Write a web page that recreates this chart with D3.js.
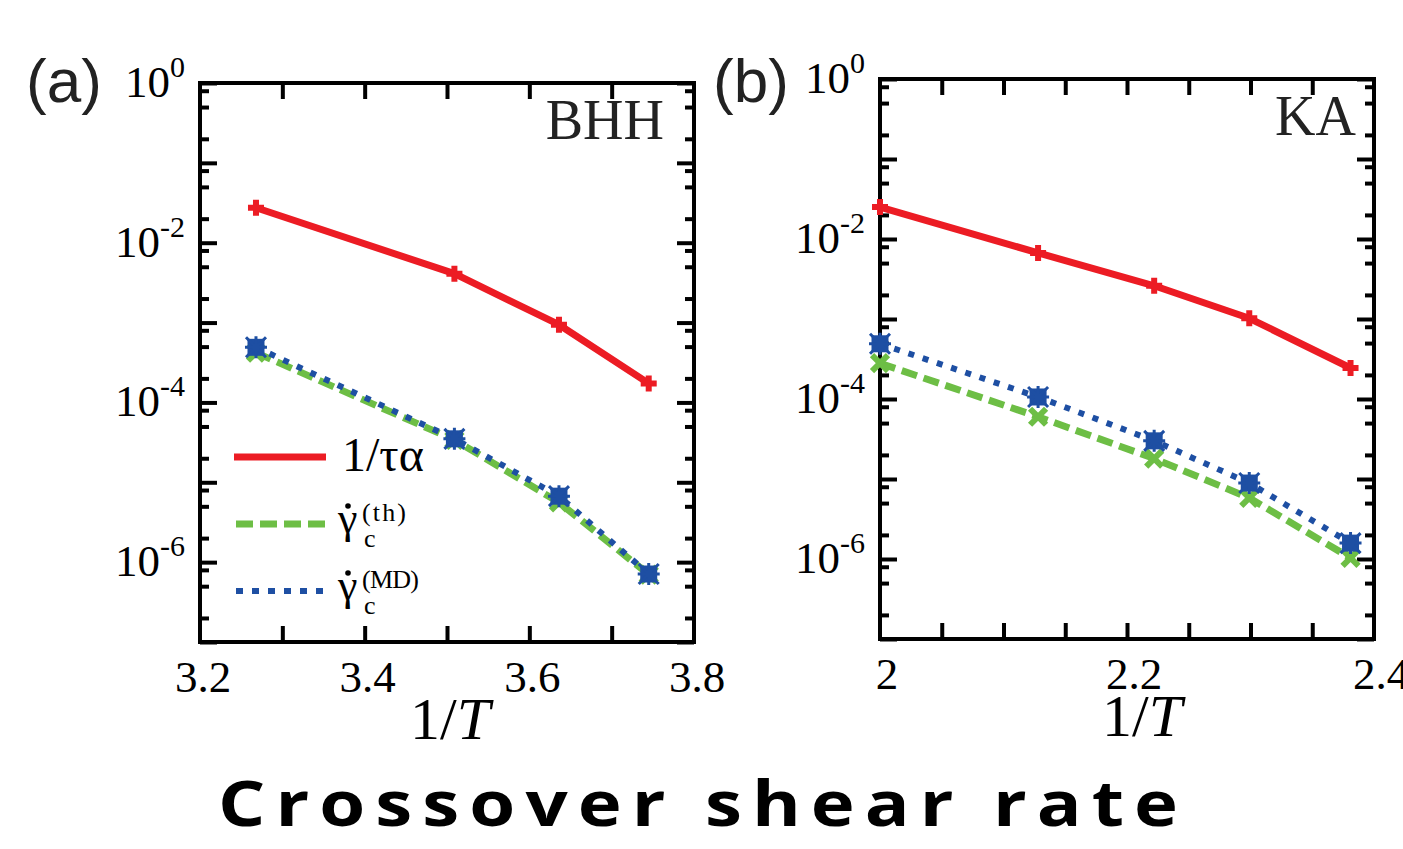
<!DOCTYPE html>
<html>
<head>
<meta charset="utf-8">
<script src="https://cdn.jsdelivr.net/npm/d3@7"></script>
<style>
  body { margin: 0; background: #fff; }
  svg { display: block; }
  .tick line { stroke: #000; stroke-width: 4; }
</style>
</head>
<body>
<div id="chart"></div>
<script>
// values
var bhhInvT   = [3.268, 3.509, 3.636, 3.745];
var bhhTau    = [0.0274, 4.1e-3, 9.4e-4, 1.73e-4];
var bhhGamTh  = [4.2e-4, 3.4e-5, 5.6e-6, 7.0e-7];
var bhhGamMD  = [4.9e-4, 3.5e-5, 6.7e-6, 7.1e-7];

var kaInvT    = [2.0, 2.128, 2.222, 2.299, 2.381];
var kaTau     = [0.0251, 6.7e-3, 2.6e-3, 1.02e-3, 2.44e-4];
var kaGamTh   = [2.8e-4, 6.0e-5, 1.8e-5, 5.8e-6, 1.03e-6];
var kaGamMD   = [4.9e-4, 1.06e-4, 3.0e-5, 8.9e-6, 1.58e-6];

var yLabelExps = [0, -2, -4, -6];
var bhhXLabels = [3.2, 3.4, 3.6, 3.8];
var bhhXTicks  = [3.3, 3.4, 3.5, 3.6, 3.7];
var kaXLabels  = [2, 2.2, 2.4];
var kaXTicks   = [2.05, 2.1, 2.15, 2.2, 2.25, 2.3, 2.35];

var RED = "#ec1c24", GREEN = "#6dbe45", BLUE = "#1e4fa3";
var SERIF = "'Liberation Serif', 'Times New Roman', serif";

var svg = d3.select("#chart").append("svg")
  .attr("width", 1403).attr("height", 849);

function zip(xs, ys) { return xs.map(function(d, i) { return [d, ys[i]]; }); }

function drawPanel(p) {
  var x = d3.scaleLinear().domain(p.xDomain).range([p.left, p.right]);
  var y = d3.scaleLog().domain([1e-7, 1]).range([p.bottom, p.top]);
  var g = svg.append("g");

  var majors = d3.range(-7, 1).map(function(e) { return Math.pow(10, e); });
  var minors = [];
  d3.range(-7, 0).forEach(function(e) {
    [2, 5, 8].forEach(function(m) { minors.push(m * Math.pow(10, e)); });
  });

  // ticks, all pointing inward
  function axis(gen, tx, ty, vals, size) {
    var a = g.append("g").attr("transform", "translate(" + tx + "," + ty + ")")
      .call(gen.tickValues(vals).tickSize(-size).tickFormat(""));
    a.select(".domain").remove();
  }
  axis(d3.axisLeft(y), p.left, 0, majors, 17);
  axis(d3.axisLeft(y), p.left, 0, minors, 9);
  axis(d3.axisRight(y), p.right, 0, majors, 17);
  axis(d3.axisRight(y), p.right, 0, minors, 9);
  axis(d3.axisBottom(x), 0, p.bottom, p.xTicks, 16);
  axis(d3.axisTop(x), 0, p.top, p.xTicks, 16);

  g.append("rect")
    .attr("x", p.left).attr("y", p.top)
    .attr("width", p.right - p.left).attr("height", p.bottom - p.top)
    .attr("fill", "none").attr("stroke", "#000").attr("stroke-width", 4);

  // y labels 10^n
  yLabelExps.forEach(function(e) {
    var t = g.append("text")
      .attr("x", p.left - 15).attr("y", y(Math.pow(10, e)) + 14)
      .attr("text-anchor", "end")
      .style("font-family", SERIF).style("font-size", "45px");
    t.append("tspan").text("10");
    t.append("tspan").attr("dy", -20).style("font-size", "30px").text(e === 0 ? "0" : "-" + (-e));
  });

  // x labels
  g.selectAll(".xl").data(p.xLabels).enter().append("text")
    .attr("x", function(d) { return x(d) + p.labelShift; })
    .attr("y", p.bottom + 50)
    .attr("text-anchor", "middle")
    .style("font-family", SERIF).style("font-size", "45px")
    .text(function(d) { return d; });

  var xt = g.append("text")
    .attr("x", (p.left + p.right) / 2 + p.titleShift).attr("y", p.bottom + 97)
    .attr("text-anchor", "middle")
    .style("font-family", SERIF).style("font-size", "60px");
  xt.append("tspan").text("1/");
  xt.append("tspan").style("font-style", "italic").text("T");

  // panel tag and system name
  g.append("text").attr("x", p.tagX).attr("y", 102)
    .style("font-family", "'Liberation Sans', Arial, sans-serif").style("font-size", "62px")
    .attr("fill", "#222").text(p.tag);
  g.append("text").attr("x", p.nameX).attr("y", p.top + 56)
    .attr("text-anchor", "end")
    .style("font-family", SERIF).style("font-size", "56px")
    .attr("fill", "#222").text(p.name);

  var line = d3.line().x(function(d) { return x(d[0]); }).y(function(d) { return y(d[1]); });

  // green dashed
  var th = zip(p.xs, p.th);
  g.append("path").datum(th).attr("d", line)
    .attr("fill", "none").attr("stroke", GREEN).attr("stroke-width", 7)
    .attr("stroke-dasharray", "16,7");
  g.selectAll(".gx").data(th).enter().append("path")
    .attr("transform", function(d) { return "translate(" + x(d[0]) + "," + y(d[1]) + ")"; })
    .attr("d", "M-8,-8L8,8M-8,8L8,-8")
    .attr("stroke", GREEN).attr("stroke-width", 6).attr("fill", "none");

  // blue dotted
  var md = zip(p.xs, p.md);
  g.append("path").datum(md).attr("d", line)
    .attr("fill", "none").attr("stroke", BLUE).attr("stroke-width", 6)
    .attr("stroke-dasharray", "6,9");
  var bm = g.selectAll(".bm").data(md).enter().append("g")
    .attr("transform", function(d) { return "translate(" + x(d[0]) + "," + y(d[1]) + ")"; });
  bm.append("rect").attr("x", -8.5).attr("y", -8.5).attr("width", 17).attr("height", 17).attr("fill", BLUE);
  bm.append("path").attr("d", "M-10,-10L10,10M-10,10L10,-10M-11,0L11,0M0,-11L0,11")
    .attr("stroke", BLUE).attr("stroke-width", 3);

  // red solid
  var tau = zip(p.xs, p.tau);
  g.append("path").datum(tau).attr("d", line)
    .attr("fill", "none").attr("stroke", RED).attr("stroke-width", 7)
    .attr("stroke-linejoin", "round");
  g.selectAll(".rp").data(tau).enter().append("path")
    .attr("transform", function(d) { return "translate(" + x(d[0]) + "," + y(d[1]) + ")"; })
    .attr("d", "M-8,0L8,0M0,-8L0,8")
    .attr("stroke", RED).attr("stroke-width", 6).attr("fill", "none");

  return g;
}

var ga = drawPanel({
  left: 200, right: 694, top: 83, bottom: 642,
  xDomain: [3.2, 3.8], xTicks: bhhXTicks, xLabels: bhhXLabels,
  labelShift: 3, titleShift: 3,
  xs: bhhInvT, tau: bhhTau, th: bhhGamTh, md: bhhGamMD,
  tag: "(a)", tagX: 26, name: "BHH", nameX: 664
});

drawPanel({
  left: 880, right: 1374, top: 79, bottom: 639,
  xDomain: [2.0, 2.4], xTicks: kaXTicks, xLabels: kaXLabels,
  labelShift: 7, titleShift: 15,
  xs: kaInvT, tau: kaTau, th: kaGamTh, md: kaGamMD,
  tag: "(b)", tagX: 713, name: "KA", nameX: 1356
});

// legend in panel (a)
var leg = ga.append("g");
leg.append("line").attr("x1", 234).attr("x2", 326).attr("y1", 457).attr("y2", 457)
  .attr("stroke", RED).attr("stroke-width", 7);
leg.append("text").attr("x", 342).attr("y", 471)
  .style("font-family", SERIF).style("font-size", "48px").text("1/τα");

leg.append("line").attr("x1", 236).attr("x2", 326).attr("y1", 524).attr("y2", 524)
  .attr("stroke", GREEN).attr("stroke-width", 7).attr("stroke-dasharray", "17,7");
leg.append("line").attr("x1", 236).attr("x2", 326).attr("y1", 591).attr("y2", 591)
  .attr("stroke", BLUE).attr("stroke-width", 6).attr("stroke-dasharray", "7,9");

[["(th)", 533, 44], ["(MD)", 600, 57]].forEach(function(r) {
  var base = r[1];
  leg.append("text").attr("x", 338).attr("y", base)
    .style("font-family", SERIF).style("font-size", "44px").text("γ");
  leg.append("circle").attr("cx", 348).attr("cy", base - 27).attr("r", 2.8).attr("fill", "#000");
  leg.append("text").attr("x", 362).attr("y", base - 12)
    .attr("textLength", r[2]).attr("lengthAdjust", "spacing")
    .style("font-family", SERIF).style("font-size", "26px").text(r[0]);
  leg.append("text").attr("x", 364).attr("y", base + 14)
    .style("font-family", SERIF).style("font-size", "26px").text("c");
});

// caption, glyphs widened a little like the original
svg.append("g").attr("transform", "translate(698,826) scale(1.18,1)")
  .append("text").attr("x", 0).attr("y", 0)
  .attr("text-anchor", "middle")
  .attr("textLength", 960 / 1.18).attr("lengthAdjust", "spacing")
  .style("font-family", "'Open Sans', sans-serif").style("font-weight", "bold")
  .style("font-size", "63px").text("Crossover shear rate");
</script>
</body>
</html>
